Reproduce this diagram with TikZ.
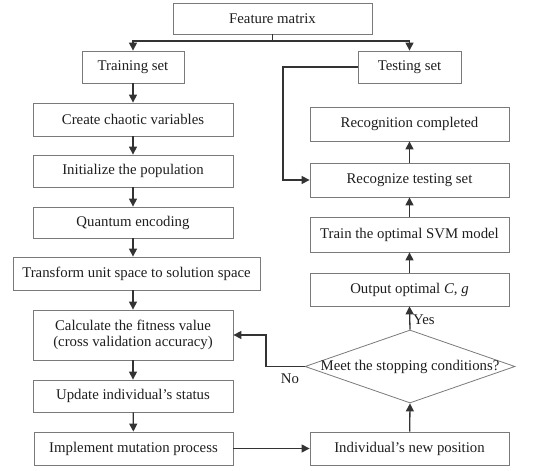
\documentclass[tikz,border=0pt]{standalone}
\usepackage{fontspec}
\setmainfont{Liberation Serif}
\usetikzlibrary{arrows.meta,shapes.geometric}
\definecolor{boxc}{HTML}{7A7A7A}
\definecolor{linec}{HTML}{333333}
\definecolor{txtc}{HTML}{1E1E1E}
\tikzset{
  box/.style={draw=boxc, line width=0.8pt, rectangle, inner sep=0pt, text=txtc, font=\fontsize{14.8}{16}\selectfont, align=center},
  arr/.style={draw=linec, line width=1.3pt, -{Triangle[length=8pt,width=8pt]}},
  lbl/.style={text=txtc, font=\fontsize{14.8}{16}\selectfont, inner sep=0pt}
}
\begin{document}
\begin{tikzpicture}[x=1pt,y=-1pt]
\useasboundingbox (0,0) rectangle (550,471);
% left column
\node[box, minimum width=199pt, minimum height=31pt] (fm) at (272.5,18.5) {Feature matrix};
\node[box, minimum width=102pt, minimum height=32pt] (train) at (133,67) {Training set};
\node[box, minimum width=103pt, minimum height=32pt] (test) at (409.5,67) {Testing set};
\node[box, minimum width=200pt, minimum height=33pt] (chaos) at (133,119.5) {Create chaotic variables};
\node[box, minimum width=200pt, minimum height=32pt] (init) at (133,171) {Initialize the population};
\node[box, minimum width=200pt, minimum height=31pt] (quant) at (133,222.5) {Quantum encoding};
\node[box, minimum width=247pt, minimum height=33pt] (trans) at (136.5,273.5) {Transform unit space to solution space};
\node[box, minimum width=200pt, minimum height=50pt] (calc) at (133,335) {Calculate the fitness value\\(cross validation accuracy)};
\node[box, minimum width=200pt, minimum height=32pt] (upd) at (133,396) {Update individual’s status};
\node[box, minimum width=199pt, minimum height=33pt] (impl) at (133.5,448.5) {Implement mutation process};
% right column
\node[box, minimum width=199pt, minimum height=34pt] (done) at (409.5,124) {Recognition completed};
\node[box, minimum width=199pt, minimum height=34pt] (recog) at (409.5,180) {Recognize testing set};
\node[box, minimum width=199pt, minimum height=35pt] (svm) at (409.5,234.5) {Train the optimal SVM model};
\node[box, minimum width=199pt, minimum height=33pt] (out) at (409.5,289.5) {Output optimal \textit{C}, \textit{g}};
\node[box, shape=diamond, minimum width=210pt, minimum height=73pt] (dia) at (410,366.5) {\makebox[0pt]{Meet the stopping conditions?}};
\node[box, minimum width=199pt, minimum height=33pt] (newp) at (409.5,448.5) {Individual’s new position};
% connectors
\coordinate (split) at (272.5,41);
\draw[draw=linec, line width=1.3pt] (fm.south) -- (split);
\draw[arr] (split) -| (train.north);
\draw[arr] (split) -| (test.north);
\draw[arr] (train) -- (chaos);
\draw[arr] (chaos) -- (init);
\draw[arr] (init) -- (quant);
\draw[arr] (quant) -- (quant.south |- trans.north);
\draw[arr] (trans.south -| calc.north) -- (calc.north);
\draw[arr] (calc) -- (upd);
\draw[arr] (upd) -- (impl);
\draw[arr] (impl) -- (newp);
\draw[arr] (newp) -- (dia.south);
\draw[arr] (dia.north) -- (out.south);
\draw[arr] (out) -- (svm);
\draw[arr] (svm) -- (recog);
\draw[arr] (recog) -- (done);
\coordinate (tbend) at (283,67);
\draw[arr] (test.west) -- (tbend) |- (recog.west);
\coordinate (nbend) at (266,366.5);
\draw[arr] (dia.west) -- (nbend) |- (calc.east);
\node[lbl, anchor=west] (yes) at (413,320) {Yes};
\node[lbl] (no) at (290,379) {No};
\end{tikzpicture}
\end{document}
